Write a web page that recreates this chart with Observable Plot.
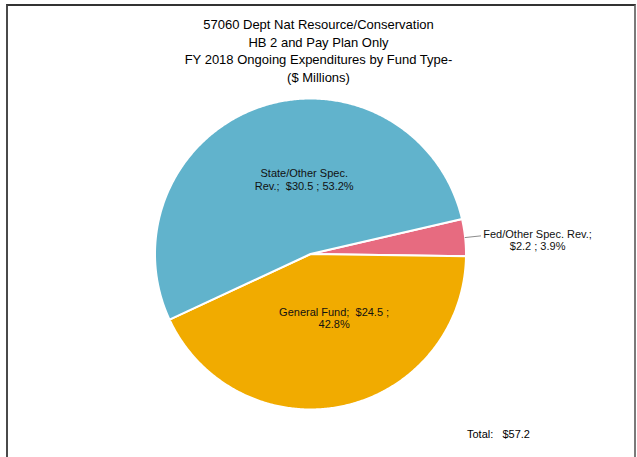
<!DOCTYPE html>
<html>
<head>
<meta charset="utf-8">
<script src="https://cdn.jsdelivr.net/npm/d3@7"></script>
<script src="https://cdn.jsdelivr.net/npm/@observablehq/plot@0.6"></script>
<style>
  html, body { margin: 0; padding: 0; background: #fff; }
  #wrap { position: relative; width: 637px; height: 457px; overflow: hidden; font-family: "Liberation Sans", Arial, sans-serif; }
  #frame { position: absolute; left: 6px; top: 4px; width: 626px; height: 470px;
           border-top: 2px solid #333; border-left: 2px solid #4a4a4a; border-right: 2px solid #7a7a7a; }
  #title { position: absolute; left: 0; width: 637px; top: 16px; text-align: center;
           font-size: 13px; line-height: 17.7px; color: #000; }
  #total { position: absolute; left: 467px; top: 427px; font-size: 11px; line-height: 14px; color: #000; white-space: pre; }
  #chart { position: absolute; left: 0; top: 0; }
</style>
</head>
<body>
<div id="wrap">
  <div id="chart"></div>
  <div id="frame"></div>
  <div id="title"></div>
  <div id="total"></div>
</div>
<script>
// ---- data ----
const titleLines = ["57060 Dept Nat Resource/Conservation", "HB 2 and Pay Plan Only", "FY 2018 Ongoing Expenditures by Fund Type-", "($ Millions)"];
const categories = ["Fed/Other Spec. Rev.", "General Fund", "State/Other Spec. Rev."];
const values = [2.2, 24.5, 30.5];
const percents = [3.9, 42.8, 53.2];
const labelTexts = ["Fed/Other Spec. Rev.;\n$2.2 ; 3.9%", "General Fund;  $24.5 ;\n42.8%", "State/Other Spec.\nRev.;  $30.5 ; 53.2%"];
const totalLabel = "Total:   $57.2";
const colors = ["#e76b80", "#f1ab00", "#61b3cc"];

document.getElementById("title").innerHTML = titleLines.join("<br>");
document.getElementById("total").textContent = totalLabel;

// ---- layout ----
const W = 637, H = 457, cx = 310, cy = 253.5, R = 155.5;
const rad = Math.PI / 180;
const start = 77 * rad;

const rows = categories.map((c, i) => ({cat: c, value: values[i], pct: percents[i], label: labelTexts[i]}));
const arcs = d3.pie().value(d => d.value).sort(null).startAngle(start).endAngle(start + 2 * Math.PI)(rows);

// polygon points for each slice (unit space, y up)
const pts = [];
for (const a of arcs) {
  pts.push({cat: a.data.cat, x: 0, y: 0});
  const n = Math.max(2, Math.ceil((a.endAngle - a.startAngle) / (0.5 * rad)));
  for (let k = 0; k <= n; k++) {
    const t = a.startAngle + (a.endAngle - a.startAngle) * k / n;
    pts.push({cat: a.data.cat, x: Math.sin(t), y: Math.cos(t)});
  }
  pts.push({cat: a.data.cat, x: 0, y: 0});
}
const mid = a => (a.startAngle + a.endAngle) / 2;
const at = (a, r) => ({x: r * Math.sin(mid(a)), y: r * Math.cos(mid(a))});

const byCat = c => arcs.find(a => a.data.cat === c);
const inside = [
  {a: byCat(categories[2]), k: 0.5, dx: 19, dy: -1},
  {a: byCat(categories[1]), k: 0.45, dx: 9, dy: -4.5}
].map(o => ({...at(o.a, o.k), label: o.a.data.label, dx: o.dx, dy: o.dy}));
const fed = byCat(categories[0]);
const leader = [at(fed, 1.0), at(fed, 1.1)];
const outside = [{...at(fed, 1.1), label: fed.data.label}];

const chart = Plot.plot({
  width: W, height: H,
  marginTop: 0, marginRight: 0, marginBottom: 0, marginLeft: 0,
  x: {domain: [-cx / R, (W - cx) / R], axis: null},
  y: {domain: [-(H - cy) / R, cy / R], axis: null},
  color: {domain: categories, range: colors},
  style: {fontFamily: "'Liberation Sans', Arial, sans-serif", background: "transparent"},
  marks: [
    Plot.line(pts, {x: "x", y: "y", z: "cat", fill: "cat", stroke: "white", strokeWidth: 2, strokeLinejoin: "round"}),
    Plot.line(leader, {x: "x", y: "y", stroke: "#8c8c8c", strokeWidth: 1}),
    Plot.text(inside.slice(0, 1), {x: "x", y: "y", text: "label", dx: 19, dy: -1, fontSize: 11, lineHeight: 1.15, fill: "#111"}),
    Plot.text(inside.slice(1, 2), {x: "x", y: "y", text: "label", dx: 9, dy: -4.5, fontSize: 11, lineHeight: 1.15, fill: "#111"}),
    Plot.text(outside, {x: "x", y: "y", text: "label", dx: 57, dy: 4, fontSize: 11, lineHeight: 1.15, fill: "#111"})
  ]
});
document.getElementById("chart").appendChild(chart);
</script>
</body>
</html>
